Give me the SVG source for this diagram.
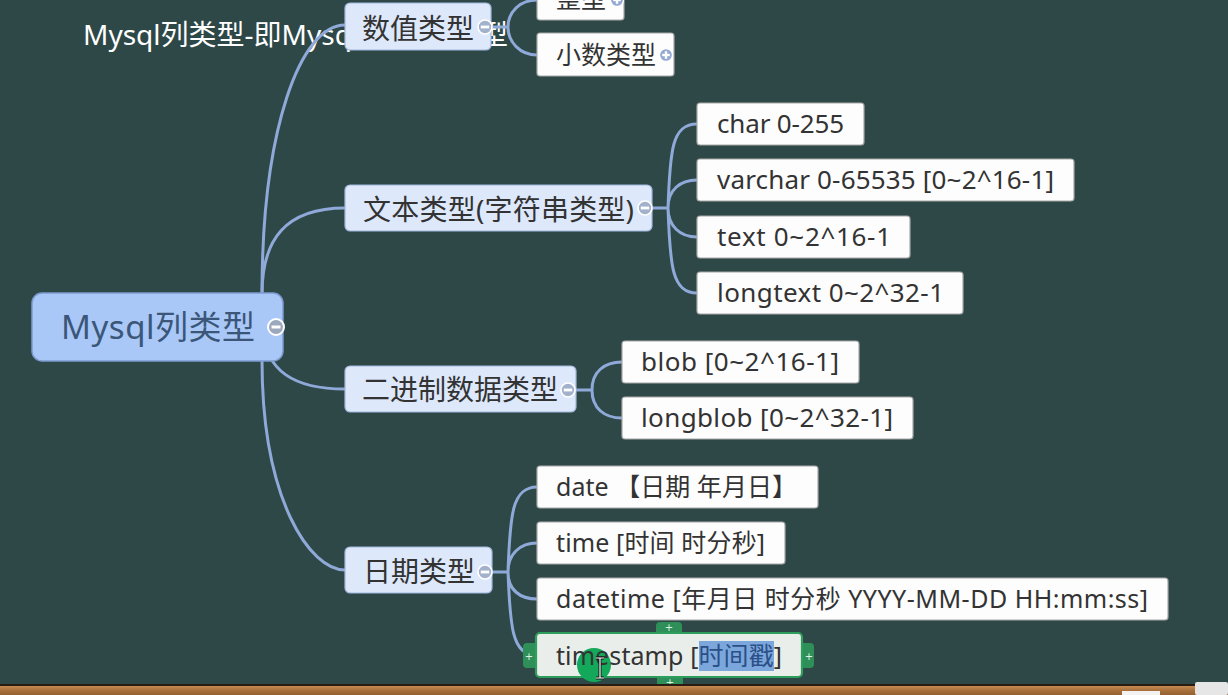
<svg xmlns="http://www.w3.org/2000/svg" width="1228" height="695" viewBox="0 0 1228 695">
<defs>
<style>
.bg{fill:#2e4848}
.conn path{fill:none;stroke:#8fa9d8;stroke-width:3;stroke-linecap:round}
.root rect{fill:#a9c8f7;stroke:#7d9bd0;stroke-width:1.5}
.root text{font-family:"Noto Sans","Noto Sans CJK SC",sans-serif;font-size:33px;fill:#3b5678}
.l1 rect{fill:#dde8fb;stroke:#a2b8dd;stroke-width:1.2}
.l1 text{font-family:"Noto Sans","Noto Sans CJK SC",sans-serif;font-size:28px;fill:#333}
.l2 rect{fill:#fdfdfd;stroke:#a8a8a8;stroke-width:1.2}
.l2 text{font-family:"Noto Sans","Noto Sans CJK SC",sans-serif;font-size:25px;fill:#333}
.l2 text.w{font-size:26px}
.title{font-family:"Noto Sans","Noto Sans CJK SC",sans-serif;font-size:28px;fill:#ffffff}
.tab{fill:#2f8f58}
.tabt{font-family:"DejaVu Sans",sans-serif;font-size:10px;fill:#dff3e6;text-anchor:middle}
</style>
<g id="minus"><circle r="7" fill="#a3b2cc" stroke="#ffffff" stroke-width="1.6"/><rect x="-4.2" y="-1.4" width="8.4" height="2.8" fill="#ffffff"/></g>
<g id="rminus"><circle r="8" fill="#9ba8bd" stroke="#ffffff" stroke-width="2"/><rect x="-4.5" y="-1.5" width="9" height="3" fill="#ffffff"/></g>
<g id="plus"><circle r="6.5" fill="#93a9d2" stroke="#ffffff" stroke-width="1.3"/><rect x="-3.8" y="-1.2" width="7.6" height="2.4" fill="#ffffff"/><rect x="-1.2" y="-3.8" width="2.4" height="7.6" fill="#ffffff"/></g>
<linearGradient id="wood" x1="0" y1="0" x2="0" y2="1"><stop offset="0" stop-color="#c48c52"/><stop offset="0.5" stop-color="#a86f3b"/><stop offset="1" stop-color="#93602f"/></linearGradient>
</defs>
<rect class="bg" x="0" y="0" width="1228" height="695"/>
<text class="title" x="83" y="45">Mysql列类型-即Mysql</text>
<text class="title" x="480" y="45">型</text>

<g id="connectors" class="conn">
<path d="M262 294 C262 130 300 25 345 25"/>
<path d="M262 294 C262 240 285 208 345 208"/>
<path d="M262 327 C265 372 295 389 345 389"/>
<path d="M262 360 C262 500 310 570 345 570"/>
<path d="M491 27 H508 M508 27 C508 12 520 0 537 0 M508 27 C508 42 520 55 537 55"/>
<path d="M652 208 H668 M668 208 C670 150 672 124 697 124 M668 208 C668 190 680 180 697 180 M668 208 C668 226 680 237 697 237 M668 208 C670 266 672 293 697 293"/>
<path d="M576 390 H592 M592 390 C592 372 604 362 622 362 M592 390 C592 408 604 418 622 418"/>
<path d="M492 572 H508 M508 572 C510 515 512 487 537 487 M508 572 C508 554 520 543 537 543 M508 572 C508 590 520 599 537 599 M508 572 C510 625 512 655 535 655"/>
</g>

<g id="root" class="root">
<rect x="32" y="293" width="251" height="68" rx="10"/>
<text x="61" y="339" textLength="194" lengthAdjust="spacing">Mysql列类型</text>
<use href="#rminus" x="276" y="327"/>
</g>

<g id="n-shuzhi" class="l1">
<rect x="345" y="3" width="146" height="47" rx="5"/>
<text x="362" y="39">数值类型</text>
<use href="#minus" x="485" y="27"/>
</g>
<g id="n-wenben" class="l1">
<rect x="345" y="185" width="307" height="46" rx="5"/>
<text x="363" y="220" textLength="271" lengthAdjust="spacing">文本类型(字符串类型)</text>
<use href="#minus" x="645" y="208"/>
</g>
<g id="n-erjinzhi" class="l1">
<rect x="345" y="366" width="231" height="46" rx="5"/>
<text x="362" y="400">二进制数据类型</text>
<use href="#minus" x="568" y="390"/>
</g>
<g id="n-riqi" class="l1">
<rect x="345" y="547" width="147" height="46" rx="5"/>
<text x="363" y="582">日期类型</text>
<use href="#minus" x="485" y="572"/>
</g>

<g id="n-zhengxing" class="l2">
<rect x="537" y="-22" width="87" height="42" rx="3"/>
<text x="556" y="8">整型</text>
<use href="#plus" x="617" y="0"/>
</g>
<g id="n-xiaoshu" class="l2">
<rect x="537" y="33" width="137" height="43" rx="3"/>
<text x="556" y="64">小数类型</text>
<use href="#plus" x="666" y="55"/>
</g>

<g id="n-char" class="l2">
<rect x="697" y="103" width="167" height="42" rx="3"/>
<text class="w" x="717" y="133" textLength="127" lengthAdjust="spacing">char 0-255</text>
</g>
<g id="n-varchar" class="l2">
<rect x="697" y="159" width="377" height="42" rx="3"/>
<text class="w" x="717" y="189" textLength="337" lengthAdjust="spacing">varchar 0-65535 [0~2^16-1]</text>
</g>
<g id="n-text" class="l2">
<rect x="697" y="216" width="213" height="42" rx="3"/>
<text class="w" x="717" y="246" textLength="174" lengthAdjust="spacing">text 0~2^16-1</text>
</g>
<g id="n-longtext" class="l2">
<rect x="697" y="272" width="266" height="42" rx="3"/>
<text class="w" x="717" y="302" textLength="227" lengthAdjust="spacing">longtext 0~2^32-1</text>
</g>

<g id="n-blob" class="l2">
<rect x="622" y="341" width="237" height="42" rx="3"/>
<text class="w" x="641" y="371" textLength="198" lengthAdjust="spacing">blob [0~2^16-1]</text>
</g>
<g id="n-longblob" class="l2">
<rect x="622" y="397" width="291" height="42" rx="3"/>
<text class="w" x="641" y="427" textLength="252" lengthAdjust="spacing">longblob [0~2^32-1]</text>
</g>

<g id="n-date" class="l2">
<rect x="537" y="466" width="281" height="42" rx="3"/>
<text x="556" y="496" textLength="241" lengthAdjust="spacing">date 【日期 年月日】</text>
</g>
<g id="n-time" class="l2">
<rect x="537" y="522" width="248" height="42" rx="3"/>
<text x="556" y="552" textLength="209" lengthAdjust="spacing">time [时间 时分秒]</text>
</g>
<g id="n-datetime" class="l2">
<rect x="537" y="578" width="631" height="42" rx="3"/>
<text x="556" y="608" textLength="592" lengthAdjust="spacing">datetime [年月日 时分秒 YYYY-MM-DD HH:mm:ss]</text>
</g>

<g id="n-timestamp">
<rect class="tab" x="656" y="622" width="26" height="14" rx="4"/>
<text class="tabt" x="669" y="631">+</text>
<rect class="tab" x="657" y="674" width="26" height="13" rx="4"/>
<text class="tabt" x="670" y="686">+</text>
<rect class="tab" x="523" y="643" width="16" height="25" rx="4"/>
<text class="tabt" x="529" y="660">+</text>
<rect class="tab" x="799" y="643" width="15" height="25" rx="4"/>
<text class="tabt" x="809" y="660">+</text>
<rect x="536" y="633" width="266" height="44" rx="4" fill="#e9eeea" stroke="#2e9e5c" stroke-width="2.2"/>
<rect x="699" y="641" width="75" height="30" fill="#7ba7dc"/>
<circle cx="594" cy="665" r="17" fill="#13a85a"/>
<text x="556" y="665" textLength="226" lengthAdjust="spacing" style="font-family:'Noto Sans','Noto Sans CJK SC',sans-serif;font-size:25px;fill:#333">timestamp [<tspan fill="#2b4f86">时间戳</tspan>]</text>
<path d="M596 658 H604 M600 658 V678 M596 678 H604" fill="none" stroke="#111" stroke-width="3"/>
<path d="M596 658 H604 M600 658 V678 M596 678 H604" fill="none" stroke="#fff" stroke-width="1.2"/>
</g>

<g id="frame">
<rect x="0" y="684" width="1228" height="2" fill="#2a1c12"/>
<rect x="0" y="686" width="1228" height="9" fill="url(#wood)"/>
<rect x="1122" y="691" width="38" height="4" fill="#f2f2f2"/>
<rect x="1195" y="682" width="33" height="13" rx="2" fill="#e6e6e6"/>
</g>
</svg>
